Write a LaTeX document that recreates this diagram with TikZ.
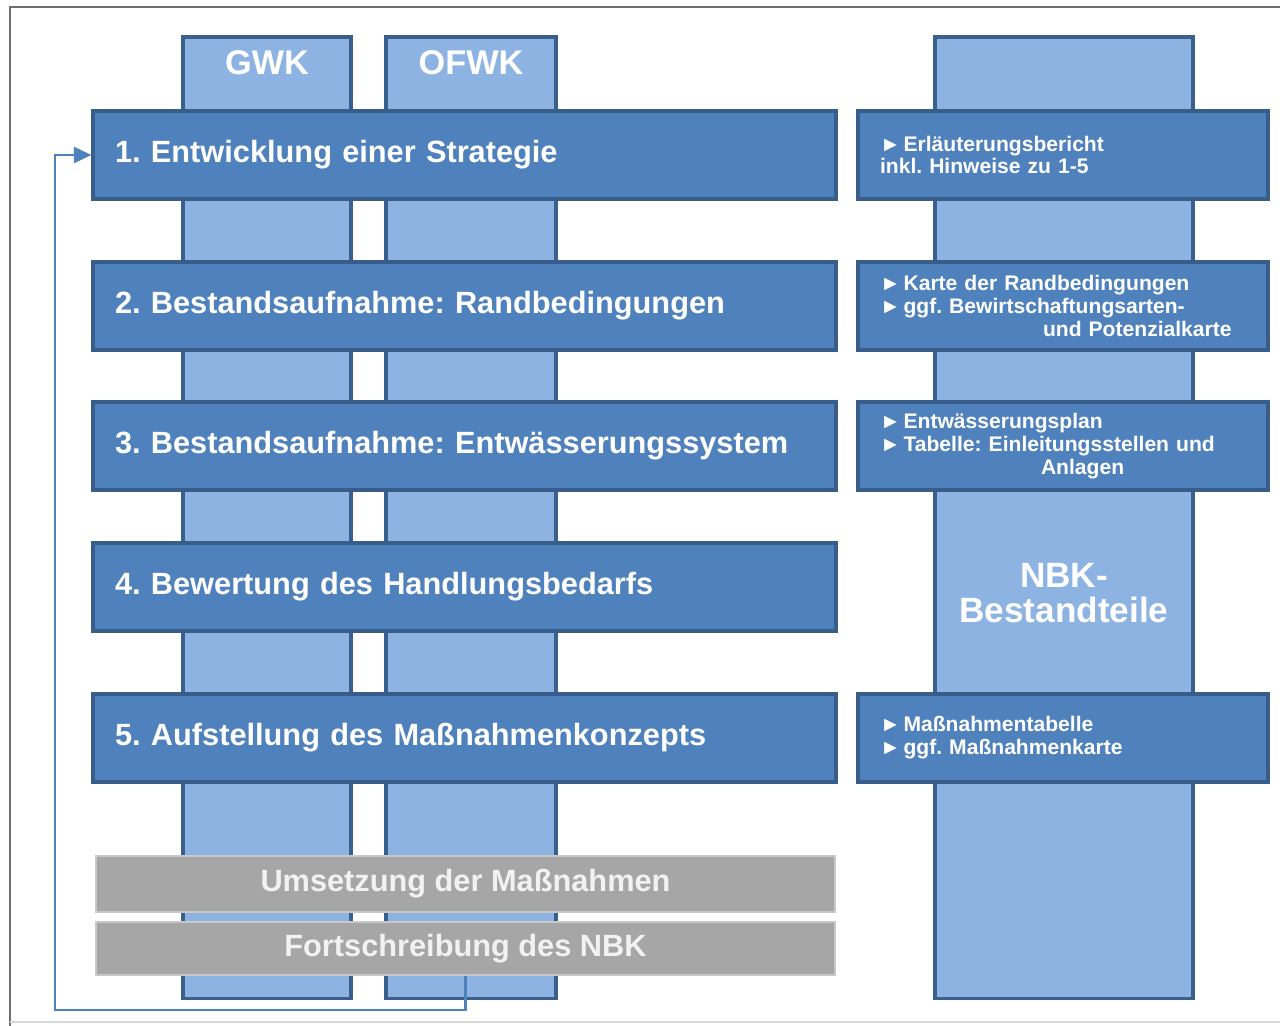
\documentclass[tikz,border=0pt]{standalone}
\usepackage{fontspec}
\setmainfont{Liberation Sans}
\usetikzlibrary{arrows.meta}
\frenchspacing

\definecolor{collight}{HTML}{8DB3E2}
\definecolor{colborder}{HTML}{3A5F8B}
\definecolor{boxfill}{HTML}{4F81BD}
\definecolor{boxborder}{HTML}{385D8A}
\definecolor{grayfill}{HTML}{A6A6A6}
\definecolor{grayborder}{HTML}{C8C8C8}
\definecolor{graytext}{HTML}{F2F2F2}
\definecolor{framegray}{HTML}{6E6E6E}

\newcommand{\pfeil}{►\kern1.5pt}

\tikzset{
	column/.style={draw=colborder, fill=collight, line width=2pt, anchor=north, minimum height=19.24cm, inner sep=0pt},
	collabel/.style={text=white, font=\bfseries\fontsize{19.5}{20}\selectfont, align=center},
	stepbox/.style={draw=boxborder, fill=boxfill, line width=1.8pt, minimum height=1.76cm, text width=13.98cm, inner xsep=0.44cm, align=left, text=white, font=\bfseries\fontsize{17.5}{20}\selectfont},
	docbox/.style={draw=boxborder, fill=boxfill, line width=1.8pt, minimum height=1.76cm, text width=7.32cm, inner xsep=0.44cm, align=left, text=white, font=\bfseries\fontsize{12}{13}\selectfont},
	graybox/.style={draw=grayborder, fill=grayfill, line width=1pt, minimum width=14.78cm, text=graytext, font=\bfseries\fontsize{17.5}{20}\selectfont},
	feedback/.style={draw=boxfill, line width=1.6pt, -{Triangle[length=10pt,width=9pt]}}
}

\begin{document}
\begin{tikzpicture}[x=0.02cm, y=-0.02cm]
	\useasboundingbox (0,0) rectangle (1280,1026);

	% Rahmen
	\draw[framegray, line width=1.5pt] (10,1026) -- (10,7) -- (1280,7);
	\draw[black!15, line width=0.8pt] (10,1022) -- (1280,1022);

	% Saeulen
	\node[column, minimum width=3.36cm] (gwk) at (267,35) {};
	\node[column, minimum width=3.4cm] (ofwk) at (471,35) {};
	\node[column, minimum width=5.16cm] (nbk) at (1064,35) {};

	\node[collabel] (gwklbl) at (267,63) {GWK};
	\node[collabel] (ofwklbl) at (471,63) {OFWK};
	\node[collabel, font=\bfseries\fontsize{20}{20}\selectfont] (nbklbl) at (1064,593) {NBK-\\Bestandteile};

	% Arbeitsschritte
	\node[stepbox] (s1) at (464.5,155) {1. Entwicklung einer Strategie};
	\node[stepbox] (s2) at (464.5,306) {2. Bestandsaufnahme: Randbedingungen};
	\node[stepbox] (s3) at (464.5,446) {3. Bestandsaufnahme: Entwässerungssystem};
	\node[stepbox] (s4) at (464.5,587) {4. Bewertung des Handlungsbedarfs};
	\node[stepbox] (s5) at (464.5,738) {5. Aufstellung des Maßnahmenkonzepts};

	% Bestandteile
	\node[docbox] (d1) at (1063,155) {\pfeil Erläuterungsbericht\\inkl. Hinweise zu 1-5};
	\node[docbox] (d2) at (1063,306) {\pfeil Karte der Randbedingungen\\\pfeil ggf. Bewirtschaftungsarten-\\\hspace*{3.26cm}und Potenzialkarte};
	\node[docbox] (d3) at (1063,446) {\pfeil Entwässerungsplan\\\pfeil Tabelle: Einleitungsstellen und\\\hspace*{3.22cm}Anlagen};
	\node[docbox] (d5) at (1063,738) {\pfeil Maßnahmentabelle\\\pfeil ggf. Maßnahmenkarte};

	% Umsetzung
	\node[graybox, minimum height=1.12cm] (umsetzung) at (465.5,884) {Umsetzung der Maßnahmen};
	\node[graybox, minimum height=1.06cm] (fort) at (465.5,948.5) {Fortschreibung des NBK};

	\coordinate (ret) at (55,1010);
	\draw[feedback] (fort.south) |- (ret) |- (s1.west);
\end{tikzpicture}
\end{document}
